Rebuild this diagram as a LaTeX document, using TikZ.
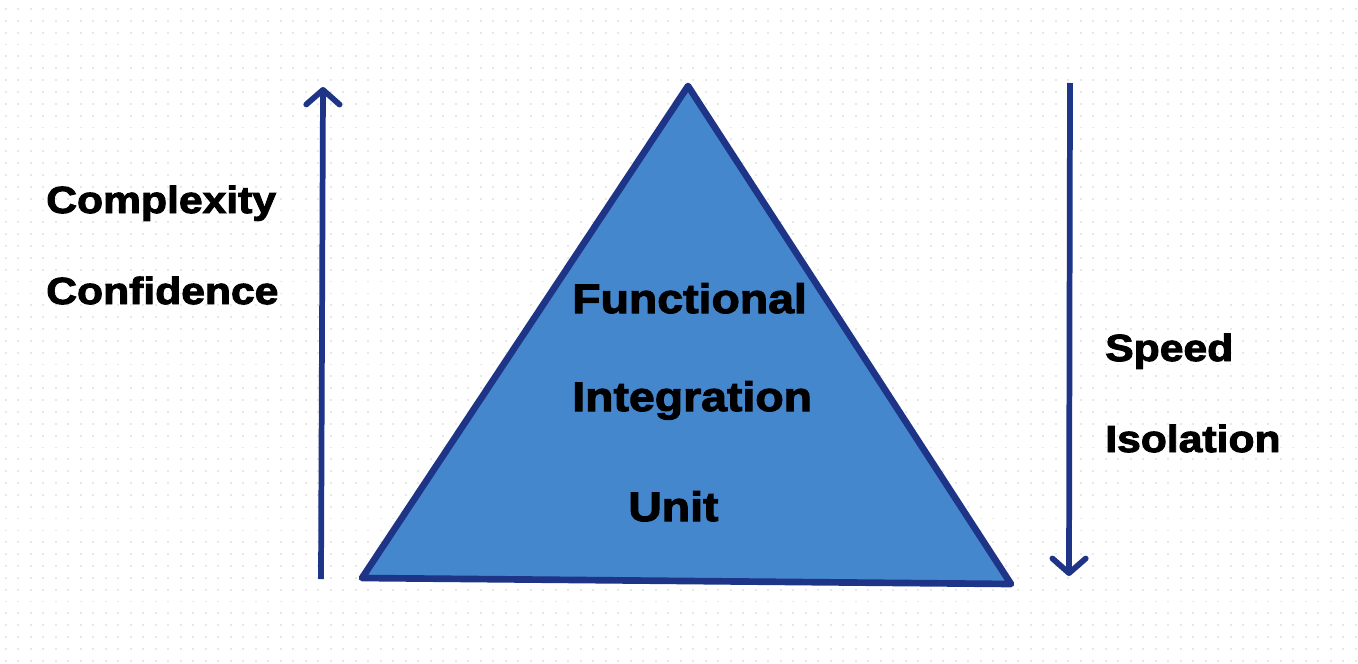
\documentclass[tikz,border=0pt]{standalone}
\usepackage{fontspec}
\usetikzlibrary{arrows.meta}
\newfontfamily\lab{Liberation Sans}[FakeStretch=1.13, BoldFeatures={FakeBold=2.6}]
\definecolor{tri}{RGB}{69,135,205}
\definecolor{edge}{RGB}{30,52,135}
\definecolor{dotc}{RGB}{232,232,232}
\begin{document}
\begin{tikzpicture}[x=0.75pt,y=-0.75pt,
  sidetxt/.style={anchor=base west,inner sep=0pt,font=\lab\bfseries\fontsize{28.3pt}{30pt}\selectfont},
  tritxt/.style={anchor=base west,inner sep=0pt,font=\lab\bfseries\fontsize{30.8pt}{32pt}\selectfont},
  axis/.style={draw=edge,line width=4.3pt,-{Straight Barb[length=11pt,width=25pt,line cap=round,line join=round]}}]
\useasboundingbox (0,0) rectangle (1358,663);
\fill[white] (0,0) rectangle (1358,663);
\foreach \i in {0,...,108}{
  \foreach \j in {0,...,55}{
    \fill[dotc] ({5.7+12.5*\i-0.9},{9+11.85*\j-0.9}) rectangle ++(1.8,1.8);
  }
}
% triangle
\coordinate (apex) at (688,86);
\coordinate (bl) at (362,578);
\coordinate (br) at (1011,584);
\filldraw[fill=tri,draw=edge,line width=5pt,line join=round] (apex) -- (bl) -- (br) -- cycle;
% axes
\coordinate (lb) at (321,579);
\coordinate (lt) at (323,87);
\coordinate (rt) at (1070,83);
\coordinate (rb) at (1069,576);
\draw[axis] (lb) -- (lt);
\draw[axis] (rt) -- (rb);
% labels
\node[sidetxt] (cx) at (46,213) {Complexity};
\node[sidetxt] (cf) at (46,304) {Confidence};
\node[sidetxt] (sp) at (1105,361) {Speed};
\node[sidetxt] (is) at (1105,452) {Isolation};
\node[tritxt] (fu) at (572,313) {Functional};
\node[tritxt] (in) at (572,411) {Integration};
\node[tritxt] (un) at (628,521) {Unit};
\end{tikzpicture}
\end{document}
